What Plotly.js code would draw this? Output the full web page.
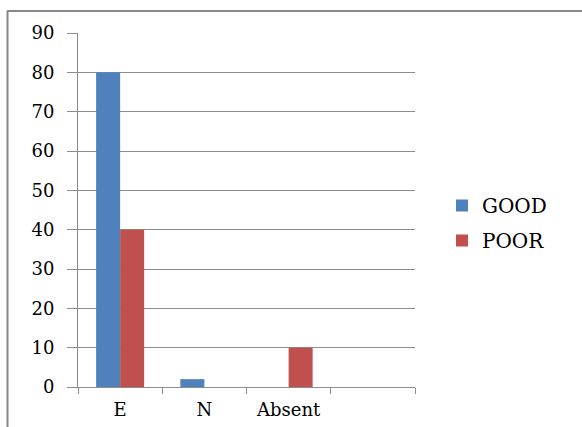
<!DOCTYPE html>
<html>
<head>
<meta charset="utf-8">
<script src="https://cdn.plot.ly/plotly-3.0.1.min.js"></script>
<style>
  html, body { margin: 0; padding: 0; background: #fff; }
  #chart { width: 582px; height: 427px; }
</style>
</head>
<body>
<div id="chart"></div>
<script>
// Category slots along the x axis (the last slot is left unlabelled and empty)
const categories = ["E", "N", "Absent", ""];
const goodValues = [80, 2, 0, null];
const poorValues = [40, 0, 10, null];
const yTicks = [0, 10, 20, 30, 40, 50, 60, 70, 80, 90];

const W = 582, H = 427;
const margin = { l: 78, r: 167, t: 33, b: 40 };
const plotW = W - margin.l - margin.r;
const plotH = H - margin.t - margin.b;
const px2x = p => (p - margin.l) / plotW;
const px2y = p => (H - margin.b - p) / plotH;

const idx = categories.map((_, i) => i);
const serif = "DejaVu Serif";

const traces = [
  {
    type: "bar", name: "GOOD", x: idx, y: goodValues,
    marker: { color: "#4F81BD" }, legendgroup: "g", hoverinfo: "none"
  },
  {
    type: "bar", name: "POOR", x: idx, y: poorValues,
    marker: { color: "#C0504D" }, legendgroup: "p", hoverinfo: "none"
  }
];

const boundaries = [];
for (let i = 0; i <= categories.length; i++) boundaries.push(i - 0.5);

const layout = {
  width: W, height: H,
  margin: margin,
  paper_bgcolor: "#fff", plot_bgcolor: "#fff",
  barmode: "group", bargap: 0.43, bargroupgap: 0,
  font: { family: serif, size: 18, color: "#000" },
  xaxis: {
    range: [-0.5, categories.length - 0.5],
    tickmode: "array", tickvals: idx, ticktext: categories,
    ticks: "", showgrid: false, zeroline: false,
    showline: true, linecolor: "#8c8c8c", linewidth: 1,
    tickfont: { family: serif, size: 18, color: "#000" },
    ticklabelstandoff: 6,
    minor: { tickmode: "array", tickvals: boundaries, ticks: "outside", ticklen: 6, tickcolor: "#8c8c8c", showgrid: false },
    fixedrange: true
  },
  yaxis: {
    range: [0, 90], tickmode: "array", tickvals: yTicks,
    ticks: "outside", ticklen: 10, tickcolor: "#8c8c8c",
    showgrid: true, gridcolor: "#8c8c8c", gridwidth: 1,
    zeroline: false, showline: true, linecolor: "#8c8c8c", linewidth: 1,
    tickfont: { family: serif, size: 18, color: "#000" },
    ticklabelstandoff: 9,
    fixedrange: true
  },
  showlegend: true,
  legend: {
    x: px2x(442), y: px2y(186), xanchor: "left", yanchor: "top",
    traceorder: "grouped", tracegroupgap: 6,
    font: { family: serif, size: 20, color: "#000" },
    bgcolor: "rgba(0,0,0,0)", itemwidth: 30
  },
  shapes: [
    // outer frame (top and left edges)
    { type: "line", xref: "paper", yref: "paper", x0: px2x(7), x1: px2x(W + 5), y0: px2y(11), y1: px2y(11), line: { color: "#888", width: 2 } },
    { type: "line", xref: "paper", yref: "paper", x0: px2x(7.5), x1: px2x(7.5), y0: px2y(11), y1: px2y(H + 5), line: { color: "#888", width: 2 } }
  ]
};

Plotly.newPlot("chart", traces, layout, { displayModeBar: false, staticPlot: true });
</script>
</body>
</html>
